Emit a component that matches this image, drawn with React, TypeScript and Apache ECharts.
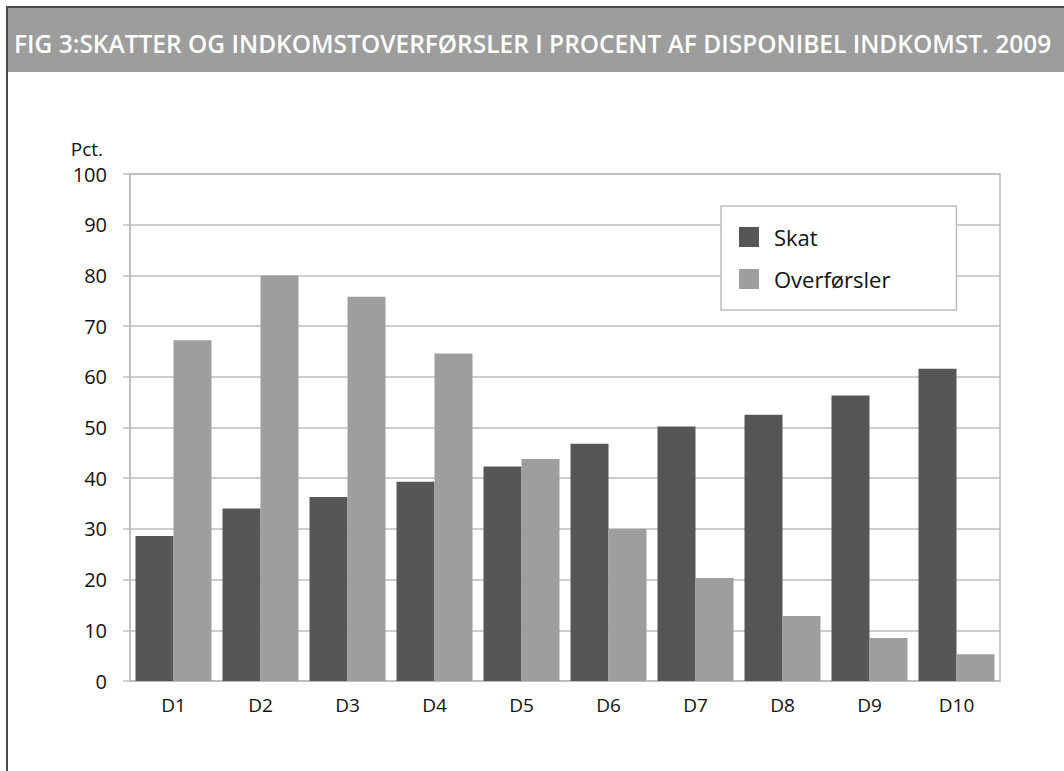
import React, { useEffect, useRef } from "react";
import * as echarts from "echarts";

const categories = ["D1", "D2", "D3", "D4", "D5", "D6", "D7", "D8", "D9", "D10"];
const skat = [28.6, 34.0, 36.3, 39.3, 42.3, 46.8, 50.2, 52.5, 56.3, 61.6];
const overfoersler = [67.2, 80.0, 75.8, 64.6, 43.8, 30.0, 20.3, 12.8, 8.5, 5.3];
const titleText = "FIG 3:SKATTER OG INDKOMSTOVERFØRSLER I PROCENT AF DISPONIBEL INDKOMST. 2009";
const yName = "Pct.";

const DARK = "#565656";
const LIGHT = "#9d9e9d";
const GRID = "#bcbcbc";
const FONT = "'Open Sans', 'Noto Sans', sans-serif";

export default function App() {
  const ref = useRef<HTMLDivElement>(null);
  useEffect(() => {
    document.body.style.margin = "0";
    const chart = echarts.init(ref.current!, null, { renderer: "svg" });
    chart.setOption({
      animation: false,
      backgroundColor: "#ffffff",
      textStyle: { fontFamily: FONT },
      graphic: [
        {
          type: "rect",
          shape: { x: 7, y: 7, width: 1100, height: 65 },
          style: { fill: "#9c9d9c" },
          silent: true,
        },
        {
          type: "rect",
          shape: { x: 7, y: 7, width: 1100, height: 800 },
          style: { fill: "none", stroke: "#4a4a4a", lineWidth: 2 },
          silent: true,
        },
        {
          type: "text",
          x: 14,
          y: 43,
          style: {
            text: titleText,
            fill: "#ffffff",
            font: `600 24.5px ${FONT}`,
            verticalAlign: "middle",
          },
          silent: true,
        },
      ],
      legend: {
        orient: "vertical",
        left: 721,
        top: 206,
        data: ["Skat", "Overførsler"],
        backgroundColor: "#ffffff",
        borderColor: GRID,
        borderWidth: 1.5,
        borderRadius: 0,
        padding: [20, 66, 20, 18],
        itemWidth: 20,
        itemHeight: 20,
        itemGap: 20,
        icon: "rect",
        textStyle: { fontSize: 22, color: "#111", fontFamily: FONT, padding: [0, 0, 0, 10] },
      },
      grid: {
        left: 130,
        right: 64,
        top: 174,
        bottom: 90,
        show: true,
        borderColor: GRID,
        borderWidth: 1.5,
        backgroundColor: "transparent",
      },
      xAxis: {
        type: "category",
        data: categories,
        axisLine: { lineStyle: { color: GRID, width: 1.5 } },
        axisTick: { show: false },
        axisLabel: { color: "#111", fontSize: 19, margin: 14, fontFamily: FONT },
      },
      yAxis: {
        type: "value",
        min: 0,
        max: 100,
        interval: 10,
        name: yName,
        nameLocation: "end",
        nameGap: 25,
        nameTextStyle: {
          color: "#111",
          fontSize: 19,
          align: "right",
          verticalAlign: "middle",
          padding: [0, 27, 0, 0],
          fontFamily: FONT,
        },
        axisLine: { show: true, lineStyle: { color: GRID, width: 1.5 } },
        axisTick: { show: true, inside: false, length: 7, lineStyle: { color: GRID, width: 1.5 } },
        splitLine: { lineStyle: { color: GRID, width: 1.5 } },
        axisLabel: { color: "#111", fontSize: 20, margin: 23, fontFamily: FONT },
      },
      series: [
        {
          name: "Skat",
          type: "bar",
          data: skat,
          barWidth: 38,
          barGap: "0%",
          itemStyle: { color: DARK },
        },
        {
          name: "Overførsler",
          type: "bar",
          data: overfoersler,
          barWidth: 38,
          barGap: "0%",
          itemStyle: { color: LIGHT },
        },
      ],
    });
    return () => chart.dispose();
  }, []);
  return (
    <div
      ref={ref}
      style={{ position: "fixed", left: 0, top: 0, width: 1064, height: 771 }}
    />
  );
}
